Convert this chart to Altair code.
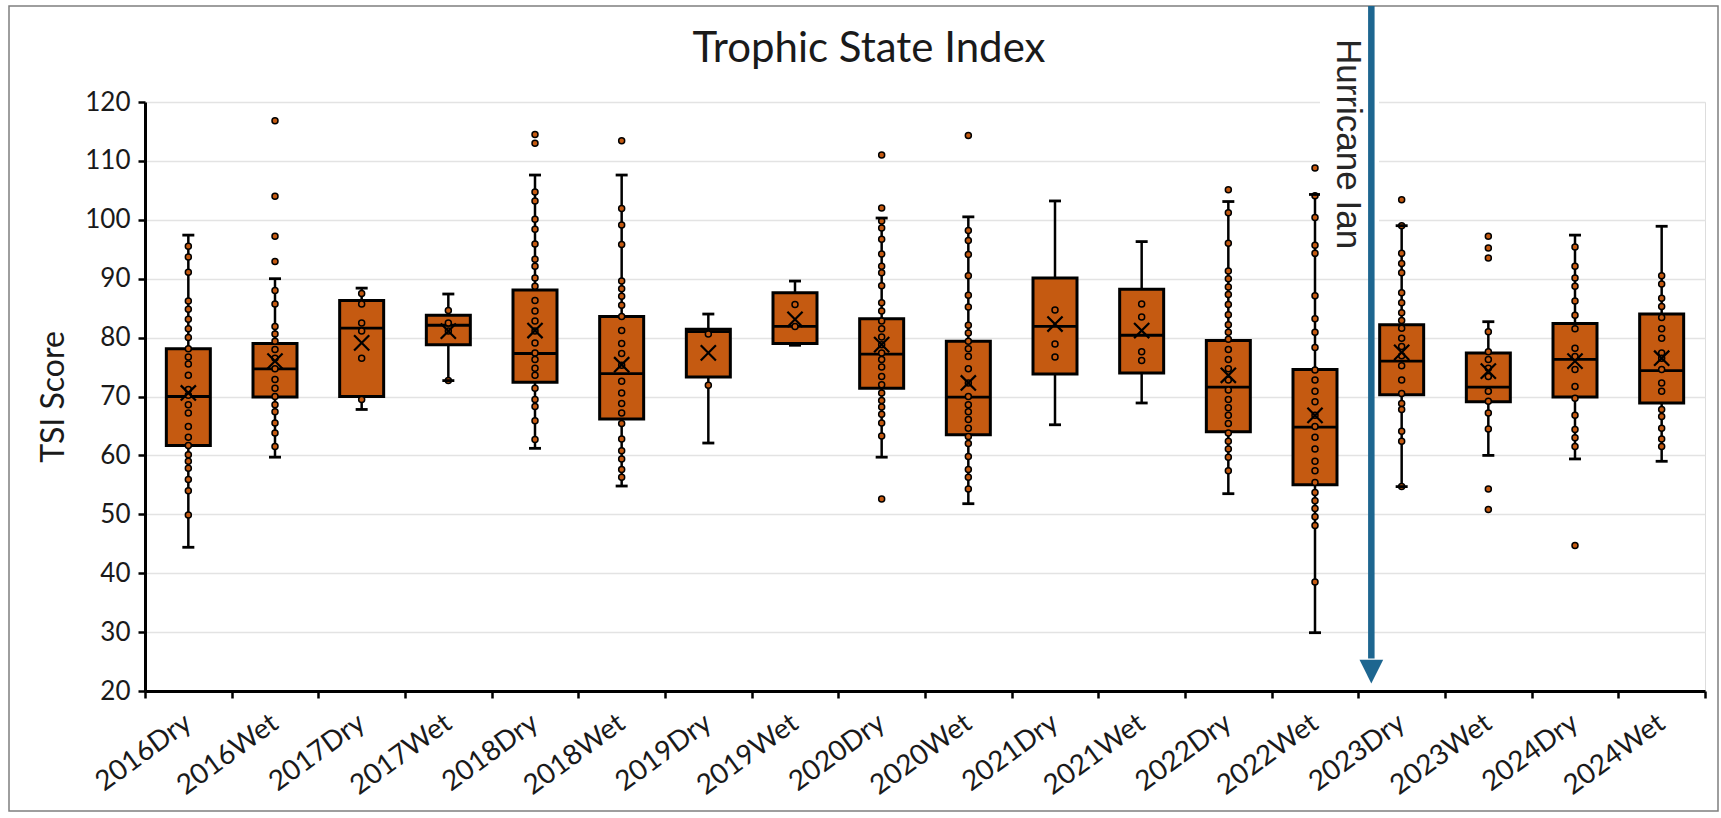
import altair as alt
import pandas as pd

categories = ["2016Dry", "2016Wet", "2017Dry", "2017Wet", "2018Dry", "2018Wet",
              "2019Dry", "2019Wet", "2020Dry", "2020Wet", "2021Dry", "2021Wet",
              "2022Dry", "2022Wet", "2023Dry", "2023Wet", "2024Dry", "2024Wet"]

whisker_low = [44.4, 59.7, 67.8, 72.7, 61.2, 54.8, 62.1, 78.7, 59.7, 51.8, 65.2, 68.9, 53.5, 29.9, 54.7, 60.0, 59.4, 59.0]
quartile_1 = [61.7, 69.9, 70.0, 78.8, 72.4, 66.2, 73.3, 79.0, 71.4, 63.5, 73.8, 74.0, 64.0, 55.0, 70.3, 69.1, 69.9, 68.9]
median_val = [70.0, 74.7, 81.6, 82.1, 77.3, 73.9, 81.0, 81.9, 77.2, 69.9, 81.9, 80.4, 71.6, 64.8, 76.0, 71.6, 76.3, 74.4]
quartile_3 = [78.1, 79.0, 86.3, 83.8, 88.1, 83.6, 81.4, 87.6, 83.2, 79.4, 90.1, 88.2, 79.5, 74.6, 82.2, 77.4, 82.4, 84.0]
whisker_high = [97.4, 90.0, 88.4, 87.4, 107.6, 107.6, 84.0, 89.6, 100.3, 100.5, 103.2, 96.3, 103.1, 104.3, 99.0, 82.7, 97.4, 98.9]
mean_val = [70.6, 76.0, 79.1, 81.1, 81.2, 75.4, 77.4, 83.1, 78.8, 72.3, 82.3, 81.2, 73.6, 66.8, 77.5, 74.3, 76.0, 76.5]

pts_2016dry = [95.5, 93.7, 91.1, 86.2, 84.8, 83.1, 81.5, 80.0, 78.1, 76.7, 75.5, 73.6, 71.2, 70.2, 68.6, 67.2, 64.9, 63.1, 61.7, 60.1, 59.0, 57.8, 55.9, 54.0, 49.9]
pts_2016wet = [116.8, 104.0, 97.2, 92.9, 88.0, 85.7, 81.9, 80.6, 79.4, 78.0, 76.5, 74.7, 72.9, 71.4, 70.0, 68.6, 67.4, 65.5, 63.8, 61.5]
pts_2017dry = [87.5, 85.7, 82.5, 81.1, 76.5, 69.5]
pts_2017wet = [84.6, 82.5, 81.1, 72.7]
pts_2018dry = [114.5, 113.0, 104.7, 103.2, 100.1, 98.4, 95.9, 93.3, 92.1, 90.1, 88.7, 86.3, 84.5, 82.8, 81.1, 79.1, 77.4, 76.3, 74.8, 73.6, 71.4, 69.5, 68.3, 65.9, 62.7]
pts_2018wet = [113.4, 101.9, 99.1, 95.8, 89.6, 88.3, 87.0, 85.5, 83.6, 81.2, 79.0, 77.3, 75.3, 72.6, 70.6, 68.8, 67.2, 65.4, 62.8, 60.8, 59.4, 57.6, 56.3]
pts_2019dry = [80.6, 71.9]
pts_2019wet = [85.6, 81.9]
pts_2020dry = [111.0, 102.0, 99.8, 98.6, 96.7, 94.2, 92.1, 91.0, 88.8, 85.9, 84.5, 82.8, 81.5, 80.1, 78.8, 77.4, 76.3, 75.0, 73.4, 72.0, 70.6, 69.3, 68.2, 67.0, 65.5, 63.3, 52.6]
pts_2020wet = [114.3, 98.2, 96.5, 94.1, 90.5, 87.2, 85.2, 82.1, 80.8, 79.4, 78.1, 76.8, 74.7, 72.3, 70.0, 68.6, 67.4, 66.1, 64.6, 63.2, 62.0, 59.8, 57.6, 56.3, 54.3]
pts_2021dry = [84.7, 78.9, 76.7]
pts_2021wet = [85.7, 83.5, 77.6, 76.1]
pts_2022dry = [105.1, 101.2, 96.0, 91.3, 90.0, 88.6, 87.3, 85.6, 83.9, 82.2, 80.9, 79.7, 78.0, 76.3, 74.7, 72.8, 71.1, 69.5, 68.1, 66.8, 65.4, 63.8, 62.4, 61.1, 59.7, 57.4]
pts_2022wet = [108.8, 104.1, 100.4, 95.7, 94.3, 87.1, 83.2, 80.9, 78.3, 74.5, 72.8, 70.9, 69.1, 66.8, 64.9, 63.1, 61.1, 59.0, 57.4, 55.4, 53.7, 52.3, 51.0, 49.6, 48.1, 38.5]
pts_2023dry = [103.4, 99.0, 94.3, 92.6, 91.0, 87.6, 85.9, 84.2, 82.9, 81.6, 79.9, 78.5, 76.9, 75.2, 72.8, 70.5, 68.8, 67.8, 64.1, 62.4, 54.7]
pts_2023wet = [97.2, 95.2, 93.5, 81.0, 77.6, 76.3, 74.8, 73.4, 70.9, 69.2, 67.2, 64.5, 54.3, 50.8]
pts_2024dry = [95.4, 92.1, 90.1, 88.7, 86.2, 83.8, 81.5, 78.2, 76.8, 74.6, 71.7, 69.7, 66.8, 64.4, 63.0, 61.5, 44.7]
pts_2024wet = [90.5, 89.1, 86.7, 85.3, 83.4, 81.5, 79.9, 77.4, 76.5, 74.6, 72.3, 70.9, 67.8, 66.6, 64.6, 62.8, 61.5]

point_lists = [pts_2016dry, pts_2016wet, pts_2017dry, pts_2017wet, pts_2018dry, pts_2018wet,
               pts_2019dry, pts_2019wet, pts_2020dry, pts_2020wet, pts_2021dry, pts_2021wet,
               pts_2022dry, pts_2022wet, pts_2023dry, pts_2023wet, pts_2024dry, pts_2024wet]

event_label = "Hurricane Ian"
event_category = "2023Dry"
title_text = "Trophic State Index"
y_title = "TSI Score"

ORANGE = "#C55A11"
BLUE = "#1D6690"
FONT = "Lato"

stats = pd.DataFrame({
    "cat": categories, "wlo": whisker_low, "q1": quartile_1, "med": median_val,
    "q3": quartile_3, "whi": whisker_high, "mean": mean_val,
})
pts = pd.DataFrame([(c, v) for c, lst in zip(categories, point_lists) for v in lst],
                   columns=["cat", "value"])

x_scale = alt.Scale(type="band", domain=categories, paddingInner=0, paddingOuter=0)
y_scale = alt.Scale(domain=[20, 120], nice=False, zero=False)

x_axis = alt.Axis(
    title=None, labelAngle=-36, labelAlign="right", labelBaseline="middle",
    labelFont=FONT, labelFontSize=28, labelColor="#1a1a1a", labelPadding=22,
    tickBand="extent", tickSize=7, tickWidth=2.5, tickColor="black",
    domainColor="black", domainWidth=3, grid=False,
)
y_axis = alt.Axis(
    values=list(range(20, 121, 10)), labelFont=FONT, labelFontSize=26,
    labelColor="#1a1a1a", labelPadding=8, tickSize=7, tickWidth=2.5, tickColor="black",
    domainColor="black", domainWidth=3, grid=True, gridColor="#e3e3e3", gridWidth=1.5,
    title=y_title, titleFont=FONT, titleFontSize=32, titleFontWeight="normal",
    titleColor="#1a1a1a", titlePadding=14,
)


def xenc(**kw):
    return alt.X("cat:N", scale=x_scale, axis=x_axis, sort=categories, **kw)


def yenc(field):
    return alt.Y(field, type="quantitative", scale=y_scale, axis=y_axis)


base = alt.Chart(stats)
one = pd.DataFrame({"k": [0]})

frame = alt.Chart(one).mark_rect(
    fill="transparent", stroke="#7f7f7f", strokeWidth=1.5
).encode(x=alt.value(-136), x2=alt.value(1573), y=alt.value(-96), y2=alt.value(709))

title_mark = alt.Chart(pd.DataFrame({"t": [title_text]})).mark_text(
    font=FONT, fontSize=42, color="#1a1a1a", align="center", baseline="alphabetic"
).encode(x=alt.value(724), y=alt.value(-40), text="t:N")

whiskers = base.mark_rule(color="black", strokeWidth=2.5).encode(
    x=xenc(), y=yenc("wlo"), y2="whi:Q")

boxes = base.mark_bar(size=44, fill=ORANGE, stroke="black", strokeWidth=3).encode(
    x=xenc(), y=yenc("q1"), y2="q3:Q")

medians = base.mark_tick(size=44, thickness=2.8, color="black", opacity=1).encode(
    x=xenc(), y=yenc("med"))

dots = alt.Chart(pts).mark_point(
    shape="circle", filled=True, fill=ORANGE, stroke="black", strokeWidth=1.5,
    size=36, opacity=1
).encode(x=xenc(), y=yenc("value"))

caps_lo = base.mark_tick(size=12, thickness=2.8, color="black", opacity=1).encode(
    x=xenc(), y=yenc("wlo"))
caps_hi = base.mark_tick(size=12, thickness=2.8, color="black", opacity=1).encode(
    x=xenc(), y=yenc("whi"))

means = base.mark_point(
    shape="M-1,-1L1,1M-1,1L1,-1", filled=False, stroke="black", strokeWidth=2.2,
    size=230, opacity=1
).encode(x=xenc(), y=yenc("mean"))

ev = pd.DataFrame({"cat": [event_category]})
prev = pd.DataFrame({"cat": [categories[categories.index(event_category) - 1]], "label": [event_label]})

text_bg = alt.Chart(one).mark_rect(fill="white").encode(
    x=alt.value(1175), x2=alt.value(1234), y=alt.value(-80), y2=alt.value(150))

arrow_line = alt.Chart(ev).mark_rule(color=BLUE, strokeWidth=6.5).encode(
    x=xenc(bandPosition=0.15), y=alt.datum(136.3), y2=alt.datum(25.5))

arrow_head = alt.Chart(ev).mark_point(
    shape="M-1,-1L1,-1L0,1Z", filled=True, fill=BLUE, strokeWidth=0, size=560, opacity=1
).encode(x=xenc(bandPosition=0.15), y=alt.datum(23.3))

event_text = alt.Chart(prev).mark_text(
    angle=90, align="left", baseline="middle", font="Liberation Sans", fontSize=35,
    color="#262626"
).encode(x=xenc(bandPosition=0.875), y=alt.value(-63), text="label:N")

chart = alt.layer(
    frame, title_mark, whiskers, boxes, medians, dots, caps_lo, caps_hi, means,
    text_bg, arrow_line, arrow_head, event_text
).properties(
    width=1560, height=589,
    padding={"left": 145, "top": 102, "right": 16, "bottom": 127},
    autosize="none",
).configure_view(strokeWidth=0).configure(background="white")

chart.save("out.html", embed_options={"renderer": "svg", "actions": False})
